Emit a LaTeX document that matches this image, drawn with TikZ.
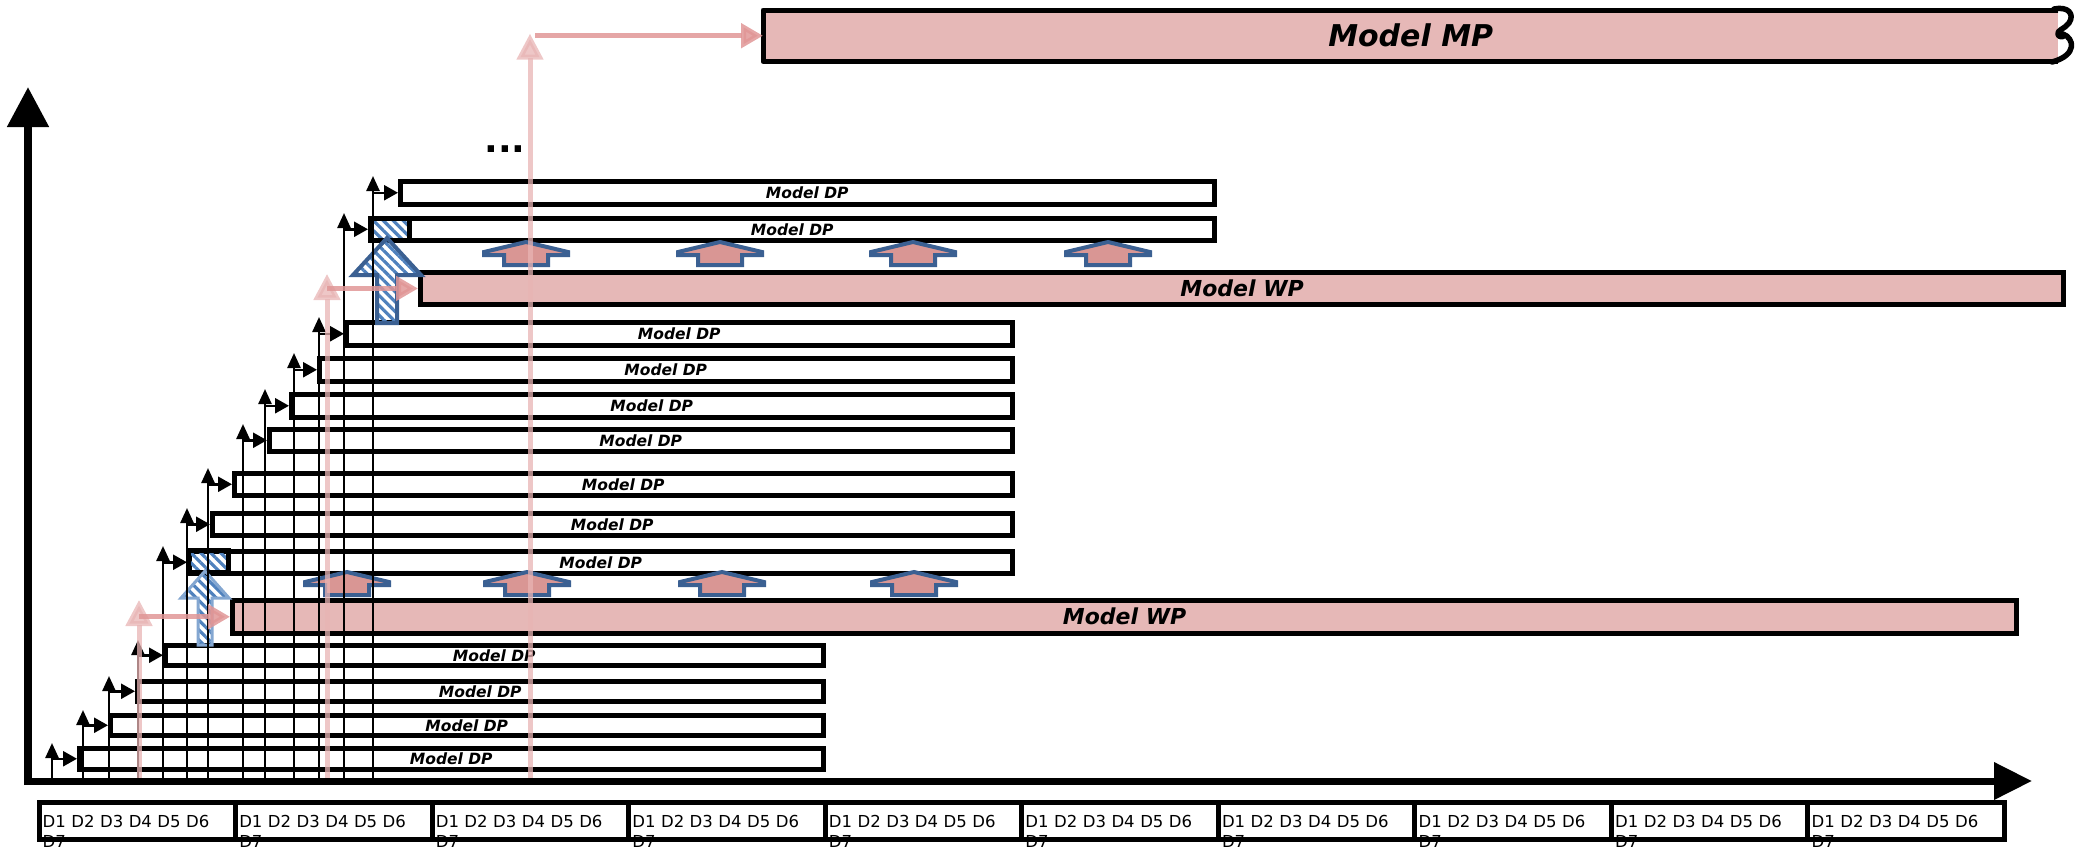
\documentclass[tikz,border=0pt]{standalone}
\usepackage{fontspec}
\newfontfamily\labfont{DejaVu Sans}
\usetikzlibrary{arrows.meta,patterns.meta,calc}

\definecolor{wppink}{RGB}{230,184,183}
\definecolor{housepink}{RGB}{217,150,148}
\definecolor{houseblue}{RGB}{59,96,146}
\definecolor{hatchblue}{RGB}{79,129,189}
\definecolor{linkpink}{RGB}{224,150,150}
\definecolor{risepink}{RGB}{232,180,180}

\tikzset{
  dpbox/.style={draw=black, line width=4.5pt, inner sep=0pt, anchor=north west,
    font=\labfont\bfseries\itshape\fontsize{15.5}{15.5}\selectfont},
  wpbox/.style={dpbox, fill=wppink, line width=5pt,
    font=\labfont\bfseries\itshape\fontsize{22}{22}\selectfont},
  hatchbox/.style={draw=black, line width=4.5pt, inner sep=0pt, anchor=north west,
    pattern={Lines[angle=-45,distance=7pt,line width=3.2pt]}, pattern color=hatchblue},
  hatchfill/.style={pattern={Lines[angle=-45,distance=7pt,line width=3.2pt]}, pattern color=hatchblue},
  riser/.style={line width=2.5pt, -{Triangle[length=15pt,width=13pt]}},
  feeder/.style={line width=2.5pt, -{Triangle[length=14pt,width=15pt]}},
  pinkrise/.style={draw=risepink, line width=5pt, opacity=0.75,
    -{Triangle[length=26pt,width=26pt]}},
  pinklink/.style={draw=linkpink, line width=5pt, opacity=0.85,
    -{Triangle[length=22pt,width=24pt]}},
  roofstyle/.style={fill=housepink, draw=houseblue, line width=4pt, line join=miter},
  roof/.pic={
    \path[roofstyle] (-22,0) -- (22,0) -- (22,-10) -- (42,-10) -- (42,-13)
      -- (0,-23) -- (-42,-13) -- (-42,-10) -- (-22,-10) -- cycle;
  },
  cell/.style={draw=black, line width=5pt, inner sep=0pt, anchor=north west,
    minimum width=196.55pt, minimum height=37pt},
  celltext/.style={font=\labfont\fontsize{16.5}{20}\selectfont, align=left,
    text width=185pt, anchor=north west, inner sep=0pt},
  axis/.style={line width=7pt},
}

\begin{document}
\begin{tikzpicture}[x=1pt,y=-1pt]
\useasboundingbox (0,0) rectangle (2078,847);

% data-parallel model boxes
\foreach \n/\t/\b/\l/\r in {1/746/767/77/821, 2/713/733/108/821, 3/679/699/135/821,
    4/643/663/163/821, 5/549/571/187/1010, 6/511/533/210/1010, 7/471/493/232/1010,
    8/427/449/267/1010, 9/392/415/289/1010, 10/356/379/317/1010, 11/320/343/344/1010,
    12/216/238/368/1212, 13/179/202/398/1212}
  \node[dpbox, minimum width={(\r-\l)*1pt}, minimum height={(\b-\t)*1pt}] (dp\n) at (\l,\t) {Model DP};

% weight-parallel and model-parallel boxes
\node[wpbox, minimum width=1784pt, minimum height=32.5pt] (wp1) at (230,598) {Model WP};
\node[wpbox, minimum width=1643pt, minimum height=32pt] (wp2) at (418,270) {Model WP};

\node[fill=wppink, inner sep=0pt, anchor=north west, minimum width=1295pt, minimum height=51pt,
  font=\labfont\bfseries\itshape\fontsize{30}{30}\selectfont] (mp) at (763,10) {Model MP};
\draw[line width=5pt, line join=round] (mp.north east) -- (mp.north west) -- (mp.south west) -- (mp.south east);
\draw[line width=5.5pt, line cap=round, line join=round]
  (2054,9) .. controls (2068,6) and (2075,14) .. (2069,23)
  .. controls (2065,29) and (2056,30) .. (2058,35)
  .. controls (2060,38) and (2066,37) .. (2063,34)
  .. controls (2074,38) and (2078,55) .. (2052,62);

% hatched merge slots
\node[hatchbox, minimum width=40pt, minimum height=22pt] (h5) at (187,549) {};
\node[hatchbox, minimum width=39pt, minimum height=22pt] (h12) at (368,216) {};

% roof markers above the WP boxes
\foreach \x in {347,527,722,914} \pic at (\x,595) {roof};
\foreach \x in {526,720,913,1108} \pic at (\x,265) {roof};

% hatched block arrows
\path[hatchfill, draw=hatchblue!70, line width=3pt, line join=miter]
  (198,645) -- (198,598) -- (181,598) -- (205,571) -- (229,598) -- (212,598) -- (212,645) -- cycle;
\path[hatchfill, draw=houseblue, line width=4pt, line join=miter]
  (377,323) -- (377,275) -- (353,275) -- (387,238) -- (421,275) -- (397,275) -- (397,323) -- cycle;

% rising arrows feeding each DP box
\foreach \n/\a in {1/52,2/83,3/109,4/138,5/163,6/187,7/208,8/243,9/265,10/294,11/319,12/344,13/373} {
  \coordinate (f\n) at (\a,781);
  \draw[riser] (f\n) -- ($(f\n |- dp\n.north)+(0,-3)$);
  \draw[feeder] (f\n |- dp\n.west) -- (dp\n.west);
}

% pink arrows into WP and MP boxes
\coordinate (p1) at (139,783);
\draw[pinkrise] (p1) -- ($(p1 |- wp1.north)+(0,2)$);
\draw[pinklink] (p1 |- wp1.west) -- (wp1.west);
\coordinate (p2) at (327,783);
\draw[pinkrise] (p2) -- ($(p2 |- wp2.north)+(0,4)$);
\draw[pinklink] (p2 |- wp2.west) -- (wp2.west);
\coordinate (p3) at (530,783);
\draw[pinkrise] (p3) -- ($(p3 |- mp.west)+(0,-2)$);
\draw[pinklink] ($(p3 |- mp.west)+(5,0)$) -- (mp.west);

\node[font=\labfont\bfseries\fontsize{36}{36}\selectfont, anchor=base, inner sep=0pt] (dots) at (505,152) {...};

% axes
\coordinate (origin) at (28,781);
\coordinate (ytop) at (28,87);
\coordinate (xend) at (2032,781);
\draw[line width=8pt, -{Triangle[length=40pt,width=40pt]}] ([yshift=-4pt]origin) -- (ytop);
\draw[axis, -{Triangle[length=38pt,width=36pt]}] ([xshift=-3pt]origin) -- (xend);

% data cells
\foreach \i in {0,...,9} {
  \node[cell] (d\i) at ({36.5+\i*196.55},800) {};
  \node[celltext] (t\i) at ({42.5+\i*196.55},815) {D1 D2 D3 D4 D5 D6 D7};
}
\end{tikzpicture}
\end{document}
